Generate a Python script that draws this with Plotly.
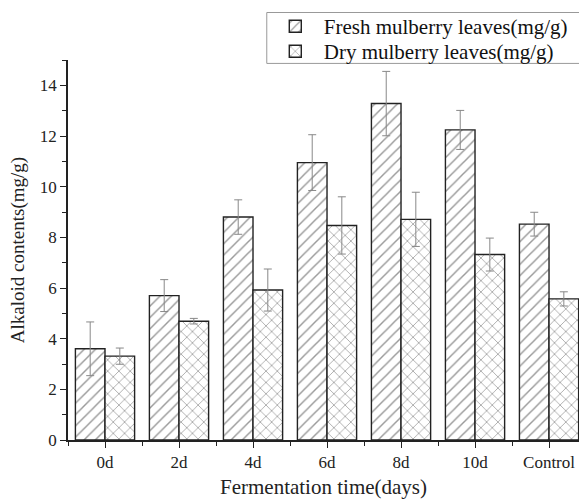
import plotly.graph_objects as go

categories = ["0d", "2d", "4d", "6d", "8d", "10d", "Control"]
fresh = [3.6, 5.7, 8.8, 10.95, 13.28, 12.24, 8.52]
fresh_err = [1.06, 0.63, 0.68, 1.1, 1.27, 0.77, 0.47]
dry = [3.31, 4.69, 5.92, 8.47, 8.71, 7.32, 5.57]
dry_err = [0.32, 0.11, 0.83, 1.13, 1.07, 0.65, 0.28]

x_pos = list(range(len(categories)))
font = "Liberation Serif"

fig = go.Figure()
fig.add_trace(go.Bar(
    x=x_pos, y=fresh, name="Fresh mulberry leaves(mg/g)", offset=-0.4, width=0.4,
    legend="legend",
    marker=dict(color="white", line=dict(color="#222", width=1.4),
                pattern=dict(shape="/", fgcolor="#333", bgcolor="white", size=8, solidity=0.18)),
    error_y=dict(type="data", array=fresh_err, color="#888", thickness=1, width=4),
))
fig.add_trace(go.Bar(
    x=x_pos, y=dry, name="Dry mulberry leaves(mg/g)", offset=0.0, width=0.4,
    legend="legend2",
    marker=dict(color="white", line=dict(color="#222", width=1.4),
                pattern=dict(shape="x", fgcolor="#333", bgcolor="white", size=8, solidity=0.18)),
    error_y=dict(type="data", array=dry_err, color="#888", thickness=1, width=4),
))

legend_common = dict(x=0.389, xanchor="left", yanchor="middle",
                     borderwidth=0, bgcolor="rgba(0,0,0,0)",
                     font=dict(family=font, size=21, color="#111"),
                     itemwidth=47)

fig.update_layout(
    width=579, height=499,
    margin=dict(l=68, r=0, t=60, b=57),
    paper_bgcolor="white", plot_bgcolor="white",
    font=dict(family=font, color="#222", size=17),
    barmode="overlay",
    showlegend=True,
    legend=dict(y=1.088, **legend_common),
    legend2=dict(y=1.022, **legend_common),
    shapes=[dict(type="rect", xref="paper", yref="paper", x0=0.389, x1=1.02, y0=0.991, y1=1.125,
                 line=dict(color="#999", width=1), fillcolor="rgba(0,0,0,0)", layer="below")],
    xaxis=dict(range=[-0.5, 6.405], tickvals=x_pos, ticktext=categories,
               showline=True, linecolor="#222", linewidth=1.5,
               ticks="outside", ticklen=6, tickcolor="#222", showgrid=False, zeroline=False,
               minor=dict(tickvals=[i - 0.5 for i in range(8)], ticks="outside", ticklen=4, tickcolor="#222"),
               title=dict(text="Fermentation time(days)", font=dict(size=21), standoff=12),
               tickfont=dict(size=17)),
    yaxis=dict(range=[0, 15], dtick=2, showline=True, linecolor="#222", linewidth=1.5,
               ticks="outside", ticklen=6, tickcolor="#222", showgrid=False, zeroline=False,
               minor=dict(dtick=1, ticks="outside", ticklen=4, tickcolor="#222"),
               title=dict(text="Alkaloid contents(mg/g)", font=dict(size=19), standoff=10),
               tickfont=dict(size=17)),
)

fig.write_html("out.html")
